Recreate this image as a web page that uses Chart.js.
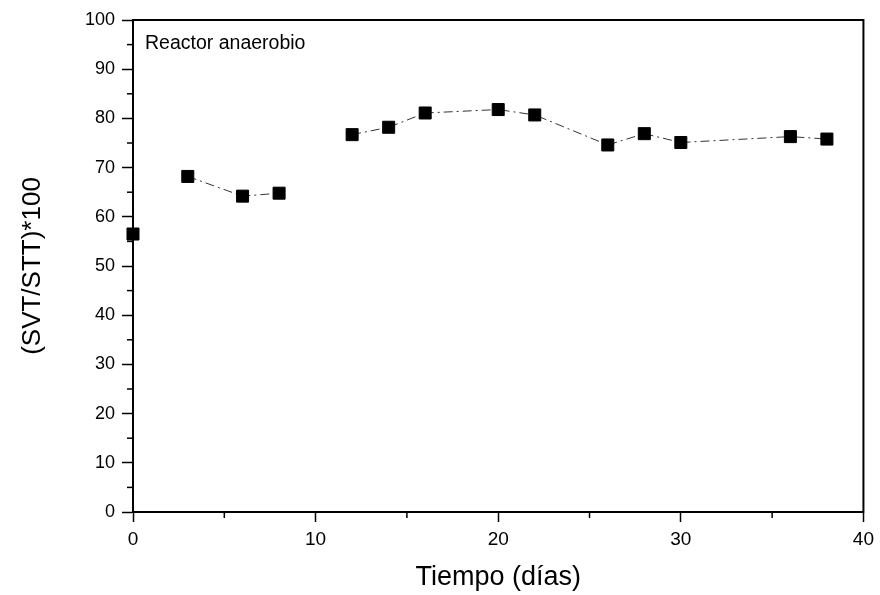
<!DOCTYPE html>
<html>
<head>
<meta charset="utf-8">
<script src="https://cdn.jsdelivr.net/npm/chart.js@4.4.0/dist/chart.umd.min.js"></script>
<style>
  html, body { margin: 0; padding: 0; background: #fff; }
  #wrap { width: 880px; height: 595px; }
</style>
</head>
<body>
<div id="wrap"><canvas id="chart" width="880" height="595"></canvas></div>
<script>
// dias y valores
let dias = [0, 3, 6, 8, 12, 14, 16, 20, 22, 26, 28, 30, 36, 38]
let svtStt = [56.5, 68.2, 64.2, 64.8, 76.7, 78.2, 81.1, 81.8, 80.7, 74.6, 76.9, 75.1, 76.3, 75.8]
let serieNombre = "Reactor anaerobio"
let xTicks = [0, 10, 20, 30, 40]
let yTicks = [0, 10, 20, 30, 40, 50, 60, 70, 80, 90, 100]

let puntos = dias.map((d, i) => ({ x: d, y: svtStt[i] }))

// tramos que no se ven en la figura original
let tramosOcultos = [0, 8]

let fontFam = "'Liberation Sans', Arial, sans-serif"

// marco + marcas menores + etiqueta
let marco = {
    id: "marco",
    afterDraw(chart) {
        let ctx = chart.ctx
        let a = chart.chartArea
        ctx.save()
        ctx.strokeStyle = "#000"
        ctx.lineWidth = 2
        ctx.strokeRect(a.left, a.top, a.right - a.left, a.bottom - a.top)

        ctx.lineWidth = 1.5
        let sx = chart.scales.x
        for (let v = 5; v < 40; v += 10) {
            let px = sx.getPixelForValue(v)
            ctx.beginPath()
            ctx.moveTo(px, a.bottom)
            ctx.lineTo(px, a.bottom + 6)
            ctx.stroke()
        }
        let sy = chart.scales.y
        for (let v = 5; v < 100; v += 10) {
            let py = sy.getPixelForValue(v)
            ctx.beginPath()
            ctx.moveTo(a.left, py)
            ctx.lineTo(a.left - 6, py)
            ctx.stroke()
        }

        ctx.fillStyle = "#000"
        ctx.font = "19.5px " + fontFam
        ctx.textBaseline = "middle"
        ctx.fillText(serieNombre, a.left + 12, a.top + 24)
        ctx.restore()
    }
}

let ctx = document.getElementById("chart").getContext("2d")

let chart = new Chart(ctx, {
    type: "scatter",
    data: {
        datasets: [{
            label: serieNombre,
            data: puntos,
            showLine: true,
            borderColor: "#333",
            borderWidth: 1,
            borderDash: [9, 4, 2, 4],
            pointStyle: "rect",
            pointRadius: 8.5,
            pointHoverRadius: 8.5,
            pointBackgroundColor: "#000",
            pointBorderColor: "#000",
            clip: false,
            segment: {
                borderColor: c => tramosOcultos.includes(c.p0.parsed.x) ? "rgba(0,0,0,0)" : undefined
            }
        }]
    },
    options: {
        responsive: false,
        animation: false,
        layout: {
            padding: { top: 20, right: 13, left: 0, bottom: 0 }
        },
        plugins: {
            legend: { display: false },
            tooltip: { enabled: false }
        },
        scales: {
            x: {
                type: "linear",
                min: 0,
                max: 40,
                afterBuildTicks: s => { s.ticks = xTicks.map(v => ({ value: v })) },
                afterFit: s => { s.height = 83 },
                border: { display: true, color: "#000", width: 2 },
                grid: { drawOnChartArea: false, drawTicks: true, tickLength: 10, tickWidth: 1.5, tickColor: "#000" },
                ticks: { color: "#000", padding: 6, font: { family: fontFam, size: 19 }, maxRotation: 0 },
                title: {
                    display: true,
                    text: "Tiempo (días)",
                    color: "#000",
                    font: { family: fontFam, size: 27 },
                    padding: { top: 0, bottom: 1 }
                }
            },
            y: {
                type: "linear",
                min: 0,
                max: 100,
                afterBuildTicks: s => { s.ticks = yTicks.map(v => ({ value: v })) },
                afterFit: s => { s.width = 133 },
                border: { display: true, color: "#000", width: 2 },
                grid: { drawOnChartArea: false, drawTicks: true, tickLength: 11, tickWidth: 1.5, tickColor: "#000" },
                ticks: { color: "#000", padding: 7, font: { family: fontFam, size: 18 } },
                title: {
                    display: true,
                    text: "(SVT/STT)*100",
                    color: "#000",
                    font: { family: fontFam, size: 26 },
                    padding: { top: 17, bottom: 0 }
                }
            }
        }
    },
    plugins: [marco]
})
</script>
</body>
</html>
